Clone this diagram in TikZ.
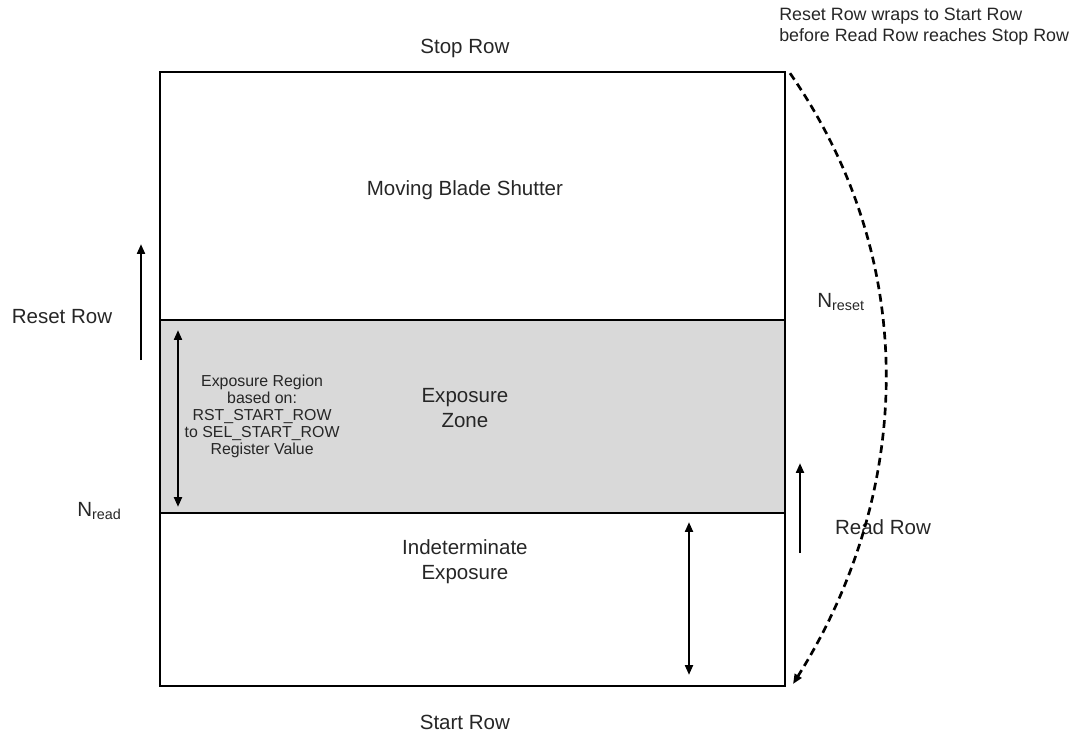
\documentclass[tikz,border=0pt]{standalone}
\usepackage{fontspec}
\setmainfont{Liberation Sans}
\usepackage{xcolor}
\usetikzlibrary{arrows.meta,positioning,calc}
\definecolor{zonegray}{HTML}{D9D9D9}

\begin{document}
\begin{tikzpicture}[
    block/.style={rectangle, draw, line width=1.8pt, minimum width=15.625cm, inner sep=0pt, outer sep=0pt},
    txt/.style={font=\fontsize{14.6}{17.5}\selectfont, text=black!85, align=center},
    note/.style={font=\fontsize{12.7}{15}\selectfont, text=black!85, align=left},
    smalltxt/.style={font=\fontsize{11.3}{12.1}\selectfont, text=black!85, align=center},
    arrow/.style={-{Triangle[length=7pt,width=5.5pt]}, line width=1.7pt},
    twoway/.style={{Triangle[length=7pt,width=5.5pt]}-{Triangle[length=7pt,width=5.5pt]}, line width=1.7pt}
]
\useasboundingbox (0,0) rectangle (26.875,-18.35);

% Sensor rows
\node[block, minimum height=6.2cm] (shutter) at (11.8125,-4.9) {};
\node[block, below=0pt of shutter, minimum height=4.825cm, fill=zonegray] (zone) {};
\node[block, below=0pt of zone, minimum height=4.325cm] (indet) {};

% Texts in the array
\node[txt] (stop) at ($(shutter.north)+(-0.19,0.6)$) {Stop Row};
\node[txt] (start) at ($(indet.south)+(-0.19,-0.9)$) {Start Row};
\node[txt] (blade) at ($(shutter.center)+(-0.19,0.15)$) {Moving Blade Shutter};
\node[txt] (expo) at ($(zone.center)+(-0.19,0.21)$) {Exposure\\Zone};
\node[txt] (indtxt) at ($(indet.center)+(-0.19,0.94)$) {Indeterminate\\Exposure};
\node[smalltxt] (region) at ($(zone.center)+(-5.26,0)$) {Exposure Region\\based on:\\RST\_START\_ROW\\to SEL\_START\_ROW\\Register Value};

% Region arrows
\coordinate (regtop) at ($(zone.north west)+(0.45,-0.25)$);
\coordinate (regbot) at ($(zone.south west)+(0.45,0.15)$);
\draw[twoway] (regbot) -- (regtop);
\coordinate (indtop) at ($(indet.north east)+(-2.4,-0.225)$);
\coordinate (indbot) at ($(indet.south east)+(-2.4,0.275)$);
\draw[twoway] (indbot) -- (indtop);

% Reset row
\coordinate (rsfrom) at ($(zone.north west)+(-0.475,-1.0)$);
\coordinate (rsto) at ($(zone.north west)+(-0.475,1.9)$);
\draw[arrow] (rsfrom) -- (rsto);
\node[txt] (rstxt) at ($(zone.north west)+(-2.45,0.075)$) {Reset Row};
\node[txt, anchor=base west, inner sep=0pt] (nread) at ($(zone.south west)+(-2.075,-0.075)$) {N\textsubscript{read}};

% Read row
\coordinate (rdfrom) at ($(zone.south east)+(0.375,-1.0)$);
\coordinate (rdto) at ($(zone.south east)+(0.375,1.25)$);
\draw[arrow] (rdfrom) -- (rdto);
\node[txt] (rdtxt) at ($(zone.south east)+(2.45,-0.35)$) {Read Row};
\node[txt, anchor=base west, inner sep=0pt] (nreset) at ($(zone.north east)+(0.8,0.325)$) {N\textsubscript{reset}};

% Wrap around
\coordinate (wrapfrom) at ($(shutter.north east)+(0.125,-0.03)$);
\coordinate (wrapto) at ($(indet.south east)+(0.2,0.05)$);
\draw[arrow, line width=1.9pt, dash pattern=on 5.5pt off 3.5pt] (wrapfrom)
    .. controls ($(shutter.north east)+(3.475,-4.85)$) and ($(indet.south east)+(3.125,4.7)$) .. (wrapto);
\node[note, anchor=west, inner sep=0pt] (wrapnote) at ($(shutter.north east)+(-0.15,1.125)$) {Reset Row wraps to Start Row\\before Read Row reaches Stop Row};

\end{tikzpicture}
\end{document}
